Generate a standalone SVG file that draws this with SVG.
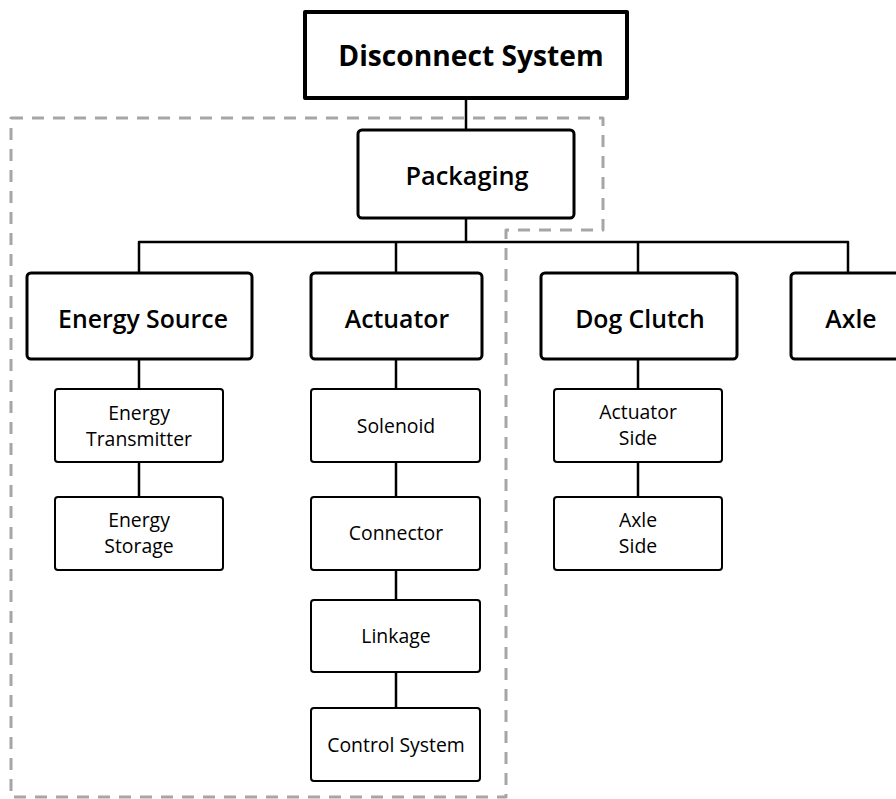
<svg xmlns="http://www.w3.org/2000/svg" width="896" height="799" viewBox="0 0 896 799">
  <style>
    .bg { fill: #ffffff; }
    .box { fill: #ffffff; stroke: #000000; stroke-linejoin: round; }
    .b1 { stroke-width: 4; }
    .b2 { stroke-width: 3; }
    .b3 { stroke-width: 2; }
    .link { fill: none; stroke: #000000; stroke-width: 2.5; stroke-linejoin: round; }
    .zone { fill: none; stroke: #a6a6a6; stroke-width: 3; stroke-dasharray: 12 9; stroke-linejoin: round; }
    text { font-family: "Open Sans", "Noto Sans", "DejaVu Sans", sans-serif; fill: #000000; text-anchor: middle; }
    .t1 { font-size: 28.2px; font-weight: 700; }
    .t2 { font-size: 24.8px; font-weight: 600; }
    .t3 { font-size: 19.4px; font-weight: 400; }
  </style>

  <rect class="bg" x="0" y="0" width="896" height="799"/>

  <!-- dashed packaging zone -->
  <path class="zone" d="M11 118 H603 V230 H506 V797 H11 Z"/>

  <!-- connectors -->
  <g id="connectors">
    <path class="link" d="M466 99 V129"/>
    <path class="link" d="M466 219 V242"/>
    <path class="link" d="M139 272 V242 H848 V272"/>
    <path class="link" d="M396 242 V272"/>
    <path class="link" d="M638 242 V272"/>
    <path class="link" d="M139 360 V389"/>
    <path class="link" d="M139 462 V497"/>
    <path class="link" d="M396 360 V389"/>
    <path class="link" d="M396 462 V497"/>
    <path class="link" d="M396 570 V600"/>
    <path class="link" d="M396 672 V708"/>
    <path class="link" d="M638 360 V389"/>
    <path class="link" d="M638 462 V497"/>
  </g>

  <g id="disconnect-system">
    <rect class="box b1" x="305" y="12" width="322" height="86"/>
    <text class="t1" x="471" y="66">Disconnect System</text>
  </g>

  <g id="packaging">
    <rect class="box b2" x="358" y="130" width="216" height="88" rx="4"/>
    <text class="t2" x="467" y="185" style="font-size:25.3px">Packaging</text>
  </g>

  <g id="energy-source">
    <rect class="box b2" x="27" y="273" width="225" height="86" rx="4"/>
    <text class="t2" x="143" y="328">Energy Source</text>
  </g>

  <g id="actuator">
    <rect class="box b2" x="311" y="273" width="171" height="86" rx="4"/>
    <text class="t2" x="397" y="328">Actuator</text>
  </g>

  <g id="dog-clutch">
    <rect class="box b2" x="541" y="273" width="196" height="86" rx="4"/>
    <text class="t2" x="640" y="328">Dog Clutch</text>
  </g>

  <g id="axle">
    <rect class="box b2" x="791" y="273" width="120" height="86" rx="4"/>
    <text class="t2" x="851" y="328">Axle</text>
  </g>

  <g id="energy-transmitter">
    <rect class="box b3" x="55" y="389" width="168" height="73" rx="3"/>
    <text class="t3" x="139" y="420">Energy</text>
    <text class="t3" x="139" y="446">Transmitter</text>
  </g>

  <g id="energy-storage">
    <rect class="box b3" x="55" y="497" width="168" height="73" rx="3"/>
    <text class="t3" x="139" y="527">Energy</text>
    <text class="t3" x="139" y="553">Storage</text>
  </g>

  <g id="solenoid">
    <rect class="box b3" x="311" y="389" width="169" height="73" rx="3"/>
    <text class="t3" x="396" y="433">Solenoid</text>
  </g>

  <g id="connector">
    <rect class="box b3" x="311" y="497" width="169" height="73" rx="3"/>
    <text class="t3" x="396" y="540">Connector</text>
  </g>

  <g id="linkage">
    <rect class="box b3" x="311" y="600" width="169" height="72" rx="3"/>
    <text class="t3" x="396" y="643">Linkage</text>
  </g>

  <g id="control-system">
    <rect class="box b3" x="311" y="708" width="169" height="73" rx="3"/>
    <text class="t3" x="396" y="752">Control System</text>
  </g>

  <g id="actuator-side">
    <rect class="box b3" x="554" y="389" width="168" height="73" rx="3"/>
    <text class="t3" x="638" y="419">Actuator</text>
    <text class="t3" x="638" y="445">Side</text>
  </g>

  <g id="axle-side">
    <rect class="box b3" x="554" y="497" width="168" height="73" rx="3"/>
    <text class="t3" x="638" y="527">Axle</text>
    <text class="t3" x="638" y="553">Side</text>
  </g>
</svg>
